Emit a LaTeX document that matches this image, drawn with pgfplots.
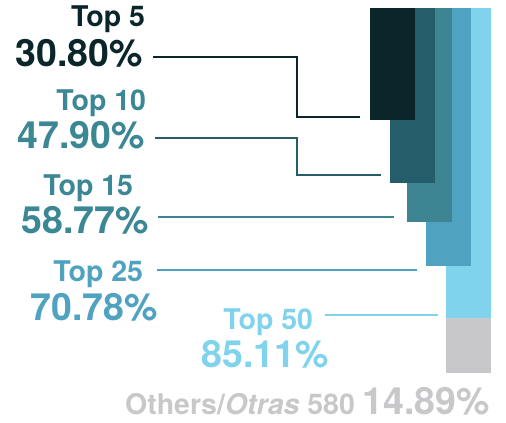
\documentclass[border=0pt]{standalone}
\usepackage{fontspec}
\setmainfont{TeX Gyre Heros}
\usepackage{pgfplots}
\pgfplotsset{compat=1.18}

\definecolor{cTopFive}{HTML}{0A262B}
\definecolor{cTopTen}{HTML}{255E6A}
\definecolor{cTopFifteen}{HTML}{3D8593}
\definecolor{cTopTwentyFive}{HTML}{50A3C0}
\definecolor{cTopFifty}{HTML}{80D3EC}
\definecolor{cOthers}{HTML}{C8C8CA}
\definecolor{cLabel}{HTML}{3B8794}

\newcommand{\pctfont}{\fontsize{37.5bp}{40bp}\selectfont\bfseries}
\newcommand{\topfont}{\fontsize{28.5bp}{30bp}\selectfont\bfseries}
\tikzset{lbl/.style={anchor=base east, inner sep=0pt, outer sep=0pt}}

\begin{document}
\begin{tikzpicture}
\begin{axis}[
scale only axis,
width=506bp, height=423bp,
xmin=0, xmax=506,
ymin=-2.194, ymax=113.8,
y dir=reverse,
hide axis,
clip=false,
]
% keep the whole axis area in the bounding box
\path (rel axis cs:0,0) rectangle (rel axis cs:1,1);

% cumulative share (%), bars hang from the top
\addplot[ybar, bar width=45, bar shift=0pt, draw=none, fill=cOthers] coordinates {(468.5,100)};
\addplot[ybar, bar width=45, bar shift=0pt, draw=none, fill=cTopFifty] coordinates {(468.5,85.11)};
\addplot[ybar, bar width=45, bar shift=0pt, draw=none, fill=cTopTwentyFive] coordinates {(448,70.78)};
\addplot[ybar, bar width=45, bar shift=0pt, draw=none, fill=cTopFifteen] coordinates {(429.5,58.77)};
\addplot[ybar, bar width=45, bar shift=0pt, draw=none, fill=cTopTen] coordinates {(412.5,47.90)};
\addplot[ybar, bar width=45, bar shift=0pt, draw=none, fill=cTopFive] coordinates {(392.5,30.80)};

% leader lines
\addplot[cTopFive, line width=2bp] coordinates {(153,13.44) (297,13.44) (297,29.89) (360,29.89)};
\addplot[cTopTen, line width=2bp] coordinates {(155,35.65) (297,35.65) (297,45.93) (381,45.93)};
\addplot[cTopFifteen, line width=2bp] coordinates {(158,57.39) (394,57.39)};
\addplot[cTopTwentyFive, line width=2bp] coordinates {(157,71.85) (417,71.85)};
\addplot[cTopFifty, line width=2bp] coordinates {(325,84.19) (438,84.19)};

% labels
\node[lbl, text=cTopFive] at (axis cs:145,5.13) {\topfont Top 5};
\node[lbl, text=cTopFive] at (axis cs:143,16.10) {\pctfont 30.80\%};
\node[lbl, text=cLabel] at (axis cs:146,27.97) {\topfont Top 10};
\node[lbl, text=cLabel] at (axis cs:145,38.47) {\pctfont 47.90\%};
\node[lbl, text=cLabel] at (axis cs:133,51.28) {\topfont Top 15};
\node[lbl, text=cLabel] at (axis cs:149,61.70) {\pctfont 58.77\%};
\node[lbl, text=cTopTwentyFive] at (axis cs:143,74.86) {\topfont Top 25};
\node[lbl, text=cTopTwentyFive] at (axis cs:158,85.56) {\pctfont 70.78\%};
\node[lbl, text=cTopFifty] at (axis cs:313,88.03) {\topfont Top 50};
\node[lbl, text=cTopFifty] at (axis cs:329,98.45) {\pctfont 85.11\%};
\node[lbl, text=cOthers] at (axis cs:490,111.6) {\topfont Others/\textit{Otras} 580 {\pctfont 14.89\%}};

\end{axis}
\end{tikzpicture}
\end{document}
